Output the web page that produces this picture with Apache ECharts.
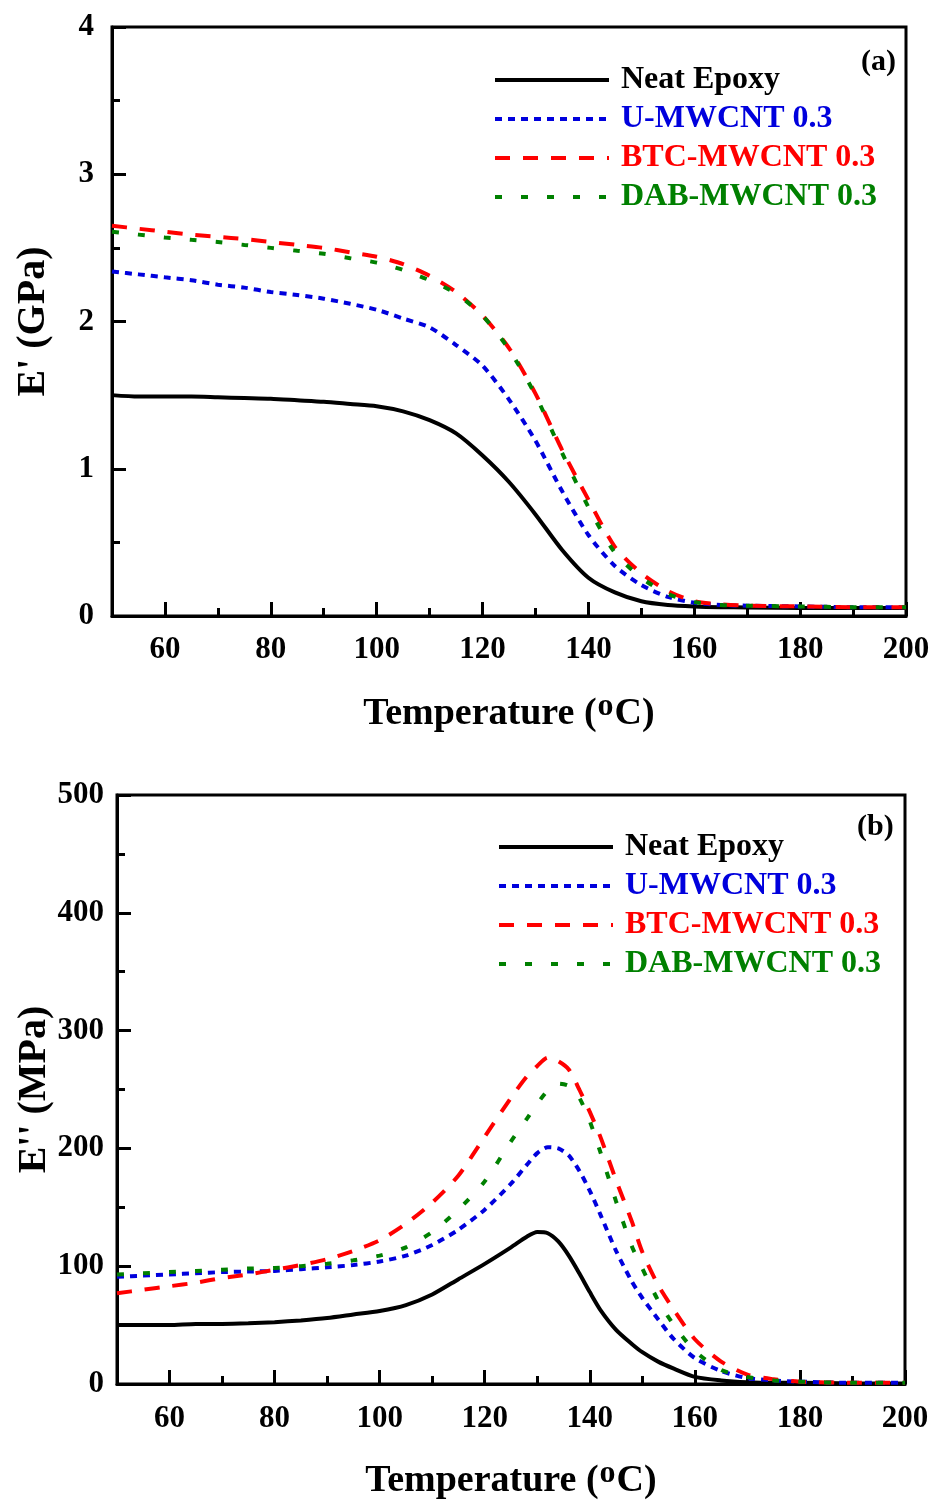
<!DOCTYPE html>
<html><head><meta charset="utf-8">
<script src="https://cdn.jsdelivr.net/npm/echarts@6/dist/echarts.min.js"></script>
<style>html,body{margin:0;padding:0;background:#fff}#c{width:939px;height:1501px}</style>
</head><body><div id="c"></div>
<script>
// ---- data ----
const seriesNames = ['Neat Epoxy', 'U-MWCNT 0.3', 'BTC-MWCNT 0.3', 'DAB-MWCNT 0.3'];
const xTickValues = [60, 80, 100, 120, 140, 160, 180, 200];
const xMinorTickValues = [70, 90, 110, 130, 150, 170, 190];

// panel (a): storage modulus E' (GPa)
const tempA = [50,55,60,65,70,75,80,85,90,95,100,105,110,115,120,125,130,135,140,145,150,155,160,165,170,180,190,200];
const neatA = [1.50,1.49,1.49,1.49,1.485,1.48,1.475,1.465,1.455,1.44,1.425,1.39,1.33,1.24,1.09,0.91,0.69,0.45,0.26,0.16,0.10,0.075,0.065,0.06,0.058,0.055,0.055,0.055];
const uA    = [2.34,2.32,2.30,2.28,2.25,2.23,2.20,2.18,2.155,2.12,2.08,2.02,1.96,1.84,1.70,1.47,1.19,0.85,0.55,0.34,0.21,0.13,0.09,0.075,0.07,0.065,0.06,0.06];
const btcA  = [2.65,2.63,2.61,2.59,2.575,2.56,2.54,2.52,2.50,2.47,2.44,2.39,2.31,2.20,2.04,1.82,1.51,1.13,0.79,0.47,0.29,0.17,0.10,0.08,0.07,0.065,0.06,0.06];
const dabA  = [2.61,2.59,2.57,2.555,2.54,2.52,2.50,2.48,2.46,2.43,2.40,2.35,2.28,2.19,2.04,1.81,1.50,1.11,0.74,0.43,0.26,0.15,0.095,0.075,0.07,0.065,0.06,0.06];

// panel (b): loss modulus E'' (MPa)
const tempB = [50,55,60,65,70,75,80,85,90,95,100,105,110,115,120,125,128,130,132,134,136,138,140,142,145,148,150,153,156,160,165,170,175,180,190,200];
const neatB = [50,50,50,51,51,51.5,52.5,54,56,59,62,67,76,89,102,116,125,129,128,121,109,94,78,63,46,34,27,19,13,6,3,1.5,1,1,0.5,0.5];
const uB    = [91,92,93,94,95,95.5,96,97.5,99,101,104,109,118,131,148,170,186,196,201,200,194,181,164,144,113,87,73,55,38,22,11,5,3,2,1,1];
const btcB  = [77,80,83,86,90,93,97,101,106,113,122,136,154,177,210,243,261,270,277,274,267,250,231,210,173,138,112,84,63,38,19,8,4,2,1,1];
const dabB  = [93,94,95,96,97,98,98.5,100,102,105,109,116,129,148,172,206,225,238,249,255,253,243,223,197,155,117,98,71,50,28,12,6,3,2,1,1];

// ---- styles ----
const FONT = 'Liberation Serif';
const colors = ['#000000', '#0000DD', '#FF0000', '#008000'];
const dashes = ['solid', [7, 6], [15, 13], [7, 19]];

function mkSeries(temps, vals, i, panel) {
  return {
    type: 'line', name: seriesNames[i],
    xAxisIndex: panel * 2, yAxisIndex: panel,
    data: temps.map((t, k) => [t, vals[k]]),
    symbol: 'none', smooth: 0.25,
    lineStyle: { color: colors[i], width: 4, type: dashes[i] },
    itemStyle: { color: colors[i] },
    z: 2 + i
  };
}

const tickLabelStyle = { fontSize: 31, fontWeight: 'bold', fontFamily: FONT, color: '#000' };
const blackLine = { color: '#000', width: 3 };

function mainX(g, labelMargin, nameGap) {
  return {
    gridIndex: g, type: 'value', min: 50, max: 200, interval: 10, position: 'bottom',
    axisLine: { show: true, onZero: false, lineStyle: blackLine },
    axisTick: { show: true, inside: true, length: 14, lineStyle: blackLine, customValues: xTickValues },
    axisLabel: Object.assign({ show: true, margin: labelMargin, customValues: xTickValues }, tickLabelStyle),
    splitLine: { show: false },
    name: '{n|Temperature (}{s|o}{n|C)}', nameLocation: 'middle', nameGap: nameGap, nameMoveOverlap: false,
    nameTextStyle: {
      fontSize: 38, fontWeight: 'bold', fontFamily: FONT, color: '#000',
      rich: {
        n: { fontSize: 38, fontWeight: 'bold', fontFamily: FONT, color: '#000', lineHeight: 44 },
        s: { fontSize: 32, fontWeight: 'bold', fontFamily: FONT, color: '#000', padding: [0, 1, 14, 1] }
      }
    }
  };
}
function minorX(g) {
  return {
    gridIndex: g, type: 'value', min: 50, max: 200, interval: 10, position: 'bottom',
    axisLine: { show: false, onZero: false },
    axisTick: { show: true, inside: true, length: 8, lineStyle: blackLine, customValues: xMinorTickValues },
    axisLabel: { show: false }, splitLine: { show: false }
  };
}
function mainY(g, max, interval, name, nameGap, labelMargin) {
  return {
    gridIndex: g, type: 'value', min: 0, max: max, interval: interval,
    axisLine: { show: true, onZero: false, lineStyle: blackLine },
    axisTick: { show: true, inside: true, length: 14, lineStyle: blackLine },
    minorTick: { show: true, splitNumber: 2, length: 8, lineStyle: blackLine },
    axisLabel: Object.assign({ margin: labelMargin }, tickLabelStyle),
    splitLine: { show: false }, minorSplitLine: { show: false },
    name: name, nameLocation: 'middle', nameRotate: 90, nameGap: nameGap, nameMoveOverlap: false,
    nameTextStyle: { fontSize: 40, fontWeight: 'bold', fontFamily: FONT, color: '#000' }
  };
}
function mkLegend(left, top) {
  return {
    left: left, top: top, orient: 'vertical', padding: 0,
    itemWidth: 114, itemHeight: 14, itemGap: 7, selectedMode: false,
    itemStyle: { opacity: 0 },
    lineStyle: { width: 4 },
    data: seriesNames.map((n, i) => ({ name: n, textStyle: { color: colors[i] } })),
    textStyle: { fontSize: 32, fontWeight: 'bold', fontFamily: FONT, lineHeight: 31, padding: [0, 0, 0, 7] }
  };
}
const panelTitleStyle = { fontSize: 30, fontWeight: 'bold', fontFamily: FONT, color: '#000' };

const option = {
  animation: false,
  backgroundColor: '#fff',
  title: [
    { text: '(a)', left: 861, top: 47, padding: 0, textStyle: panelTitleStyle },
    { text: '(b)', left: 857, top: 812, padding: 0, textStyle: panelTitleStyle }
  ],
  legend: [mkLegend(493, 64), mkLegend(497, 831)],
  grid: [
    { left: 112, top: 27, width: 794, height: 589, show: true, borderColor: '#000', borderWidth: 3 },
    { left: 117, top: 795, width: 788, height: 589, show: true, borderColor: '#000', borderWidth: 3 }
  ],
  xAxis: [mainX(0, 18, 75), minorX(0), mainX(1, 19, 74), minorX(1)],
  yAxis: [
    mainY(0, 4, 1, "E' (GPa)", 58, 18),
    mainY(1, 500, 100, "E'' (MPa)", 62, 13)
  ],
  series: [
    mkSeries(tempA, neatA, 0, 0), mkSeries(tempA, uA, 1, 0), mkSeries(tempA, btcA, 2, 0), mkSeries(tempA, dabA, 3, 0),
    mkSeries(tempB, neatB, 0, 1), mkSeries(tempB, uB, 1, 1), mkSeries(tempB, btcB, 2, 1), mkSeries(tempB, dabB, 3, 1)
  ]
};
const chart = echarts.init(document.getElementById('c'), null, { renderer: 'canvas' });
chart.setOption(option);
</script></body></html>
